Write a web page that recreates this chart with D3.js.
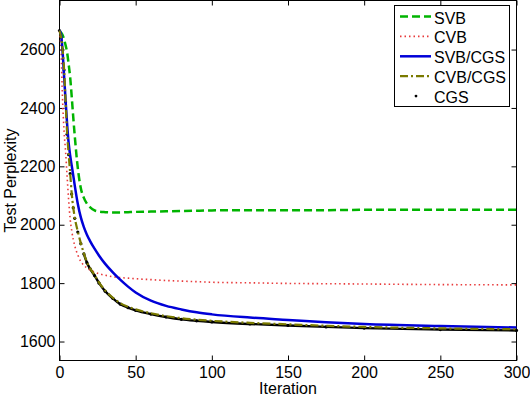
<!DOCTYPE html>
<meta charset="utf-8">
<style>
  body { margin: 0; background: #fff; }
  text { font-family: "Liberation Sans", Arial, sans-serif; }
</style>
<body>
<div id="chart"></div>
<script src="https://d3js.org/d3.v7.min.js"></script>
<script>
  var iterations = [0, 1, 2, 3, 4, 5, 6, 7, 8, 9, 10, 12, 14, 16, 18, 20, 23, 26, 30, 35, 40, 45, 50,
    60, 70, 80, 90, 100, 125, 150, 175, 200, 250, 300];

  var svb = [2662, 2658, 2650, 2635, 2615, 2590, 2550, 2505, 2440, 2370, 2305, 2195, 2125, 2092, 2072, 2060,
    2049, 2045, 2043, 2042, 2042, 2043, 2044, 2045, 2046, 2047, 2048, 2049, 2050, 2050, 2050, 2051, 2051, 2051];
  var cvb = [2662, 2600, 2430, 2320, 2250, 2165, 2085, 2020, 1980, 1950, 1928, 1897, 1874, 1861, 1852, 1845,
    1838, 1832, 1827, 1822, 1819, 1817, 1815, 1812, 1809, 1807, 1805, 1803, 1801, 1799, 1798, 1797, 1795, 1794];
  var svbcgs = [2665, 2652, 2595, 2510, 2425, 2345, 2280, 2237, 2203, 2170, 2135, 2072, 2025, 1992, 1966, 1945,
    1918, 1894, 1866, 1837, 1811, 1788, 1768, 1740, 1722, 1710, 1700, 1693, 1682, 1674, 1666, 1660, 1653, 1648];
  var cvbcgs = [2665, 2642, 2602, 2532, 2422, 2312, 2242, 2177, 2108, 2060, 2025, 1977, 1937, 1902, 1872, 1852,
    1828, 1802, 1775, 1750, 1731, 1719, 1710, 1697, 1687, 1680, 1675, 1671, 1664, 1659, 1654, 1650, 1645, 1642];
  var cgs = [2665, 2640, 2600, 2530, 2420, 2310, 2240, 2175, 2105, 2058, 2022, 1975, 1935, 1900, 1870, 1850,
    1826, 1800, 1772, 1748, 1728, 1716, 1707, 1694, 1684, 1676, 1671, 1667, 1660, 1655, 1650, 1646, 1641, 1638];

  var xTicks = [0, 50, 100, 150, 200, 250, 300];
  var yTicks = [1600, 1800, 2000, 2200, 2400, 2600];

  var W = 530, H = 398;
  var plotL = 59.5, plotR = 516.5, plotT = 0.5, plotB = 360.5;
  var fs = 16;

  var x = d3.scaleLinear().domain([0, 300]).range([plotL, plotR]);
  var y = d3.scaleLinear().domain([1535, 2768]).range([plotB, plotT]);

  var svg = d3.select("#chart").append("svg")
    .attr("width", W)
    .attr("height", H);

  function styleLabels(g) {
    g.select(".domain").remove();
    g.selectAll("text").attr("font-size", fs).attr("fill", "#000")
      .attr("font-family", "Liberation Sans, Arial, sans-serif");
  }

  // axes, MATLAB style: ticks inside, box on
  svg.append("g")
    .attr("transform", "translate(0," + plotB + ")")
    .call(d3.axisBottom(x).tickValues(xTicks).tickSizeInner(-5).tickSizeOuter(0).tickPadding(6))
    .call(styleLabels);
  svg.append("g")
    .attr("transform", "translate(0," + plotT + ")")
    .call(d3.axisTop(x).tickValues(xTicks).tickSizeInner(-5).tickSizeOuter(0).tickFormat(""))
    .call(styleLabels);
  svg.append("g")
    .attr("transform", "translate(" + plotL + ",0)")
    .call(d3.axisLeft(y).tickValues(yTicks).tickSizeInner(-5).tickSizeOuter(0).tickPadding(4)
      .tickFormat(d3.format("d")))
    .call(styleLabels);
  svg.append("g")
    .attr("transform", "translate(" + plotR + ",0)")
    .call(d3.axisRight(y).tickValues(yTicks).tickSizeInner(-5).tickSizeOuter(0).tickFormat(""))
    .call(styleLabels);

  svg.append("rect")
    .attr("x", plotL).attr("y", plotT)
    .attr("width", plotR - plotL).attr("height", plotB - plotT)
    .attr("fill", "none").attr("stroke", "#000").attr("stroke-width", 1);

  // axis labels
  svg.append("text")
    .attr("x", (plotL + plotR) / 2).attr("y", 394)
    .attr("text-anchor", "middle").attr("font-size", fs)
    .text("Iteration");
  svg.append("text")
    .attr("transform", "translate(16," + (plotB + plotT) / 2 + ") rotate(-90)")
    .attr("text-anchor", "middle").attr("font-size", fs)
    .text("Test Perplexity");

  var series = [
    { name: "SVB", values: svb, color: "#00b400", width: 2.5, dash: "8,4" },
    { name: "CVB", values: cvb, color: "#e8393a", width: 1.6, dash: "1.5,3" },
    { name: "SVB/CGS", values: svbcgs, color: "#0000d8", width: 2.5, dash: null },
    { name: "CVB/CGS", values: cvbcgs, color: "#7a7a00", width: 2.2, dash: "8,3,2,3" },
    { name: "CGS", values: cgs, color: "#000", width: 2.4, dash: null, dots: true }
  ];

  var line = d3.line()
    .x(function(d) { return x(d[0]); })
    .y(function(d) { return y(d[1]); })
    .curve(d3.curveMonotoneX);

  var plot = svg.append("g");

  // draw CGS first so the olive dash-dot sits on top like the reference
  [4, 0, 1, 2, 3].forEach(function(i) {
    var s = series[i];
    var pts = iterations.map(function(it, j) { return [it, s.values[j]]; });
    // CGS is a dotted marker series: separate dots early, merging into a thick line later
    var linePts = s.dots ? pts.filter(function(d) { return d[0] >= 16; }) : pts;
    plot.append("path")
      .datum(linePts)
      .attr("d", line)
      .attr("fill", "none")
      .attr("stroke", s.color)
      .attr("stroke-width", s.width)
      .attr("stroke-dasharray", s.dash);
    if (s.dots) {
      plot.selectAll(".dot")
        .data(pts)
        .enter().append("circle")
        .attr("class", "dot")
        .attr("cx", function(d) { return x(d[0]); })
        .attr("cy", function(d) { return y(d[1]); })
        .attr("r", 1.6)
        .attr("fill", "#000");
    }
  });

  // legend
  var lg = svg.append("g");
  lg.append("rect")
    .attr("x", 394.5).attr("y", 5.5).attr("width", 115).attr("height", 101)
    .attr("fill", "#fff").attr("stroke", "#000");
  series.forEach(function(s, i) {
    var ly = 16.5 + i * 19.9;
    if (s.dots) {
      lg.append("circle").attr("cx", 416).attr("cy", ly).attr("r", 1.4).attr("fill", "#000");
    } else {
      lg.append("line")
        .attr("x1", 400).attr("x2", 431).attr("y1", ly).attr("y2", ly)
        .attr("stroke", s.color).attr("stroke-width", s.width)
        .attr("stroke-dasharray", s.dash);
    }
    lg.append("text")
      .attr("x", 434).attr("y", ly + 7)
      .attr("font-size", fs)
      .text(s.name);
  });
</script>
</body>
